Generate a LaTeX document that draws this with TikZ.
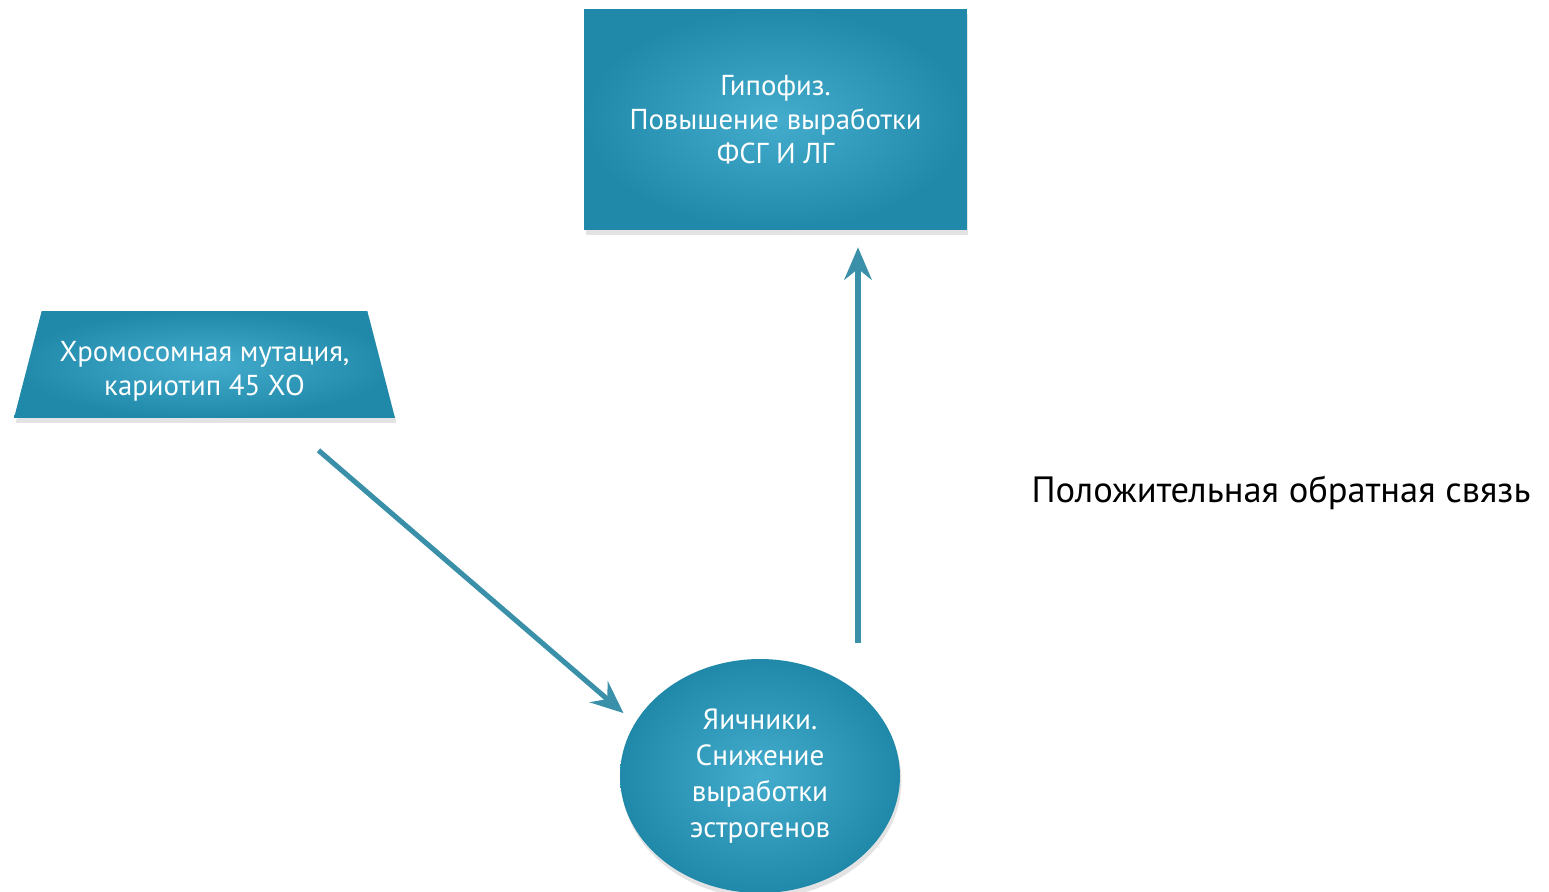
\documentclass[tikz,border=0pt]{standalone}
\usepackage{fontspec}
\setmainfont{PT Sans}
\usetikzlibrary{shapes.geometric,shadows,arrows.meta}
\definecolor{tealin}{HTML}{44ACCC}
\definecolor{tealout}{HTML}{2089AA}
\definecolor{arrcol}{HTML}{3A90A8}
\tikzstyle{blok}=[inner color=tealin,outer color=tealout,text=white,align=center,
  font=\fontsize{16.4}{19.5}\selectfont,
  drop shadow={shadow xshift=0.03cm,shadow yshift=-0.1cm,opacity=0.22}]
\tikzstyle{strelka}=[line width=2.9pt,draw=arrcol,-{Stealth[length=0.65cm,width=0.55cm,inset=0.22cm]}]

\begin{document}
\begin{tikzpicture}[x=0.02cm,y=-0.02cm]
    \useasboundingbox (0,0) rectangle (1549,892);
    \node [blok,rectangle,minimum width=7.66cm,minimum height=4.42cm] (gipofiz) at (775.5,119.5)
        {Гипофиз.\\Повышение выработки\\ФСГ И ЛГ};
    \node [blok,trapezium,trapezium stretches body,trapezium angle=72,
           minimum width=7.62cm,minimum height=2.14cm,inner xsep=0pt] (mutacia) at (204.5,364.5)
        {\rule{0pt}{19pt}Хромосомная мутация,\\кариотип 45 ХО};
    \node [blok,ellipse,minimum width=5.6cm,minimum height=4.68cm,inner sep=0pt,
           font=\fontsize{16.6}{20.6}\selectfont] (yaichniki) at (760,776)
        {Яичники.\\Снижение\\выработки\\эстрогенов};
    \node [font=\fontsize{20.8}{24}\selectfont] (svyaz) at (1281,493) {Положительная обратная связь};
    \coordinate (mstart) at ([shift={(2.28cm,-0.64cm)}]mutacia.south);
    \coordinate (fstart) at (858,643);
    \draw [strelka,shorten >=0.3cm] (mstart) -- (yaichniki.157);
    \draw [strelka,shorten >=0.34cm] (fstart) -- (fstart |- gipofiz.south);
\end{tikzpicture}
\end{document}
